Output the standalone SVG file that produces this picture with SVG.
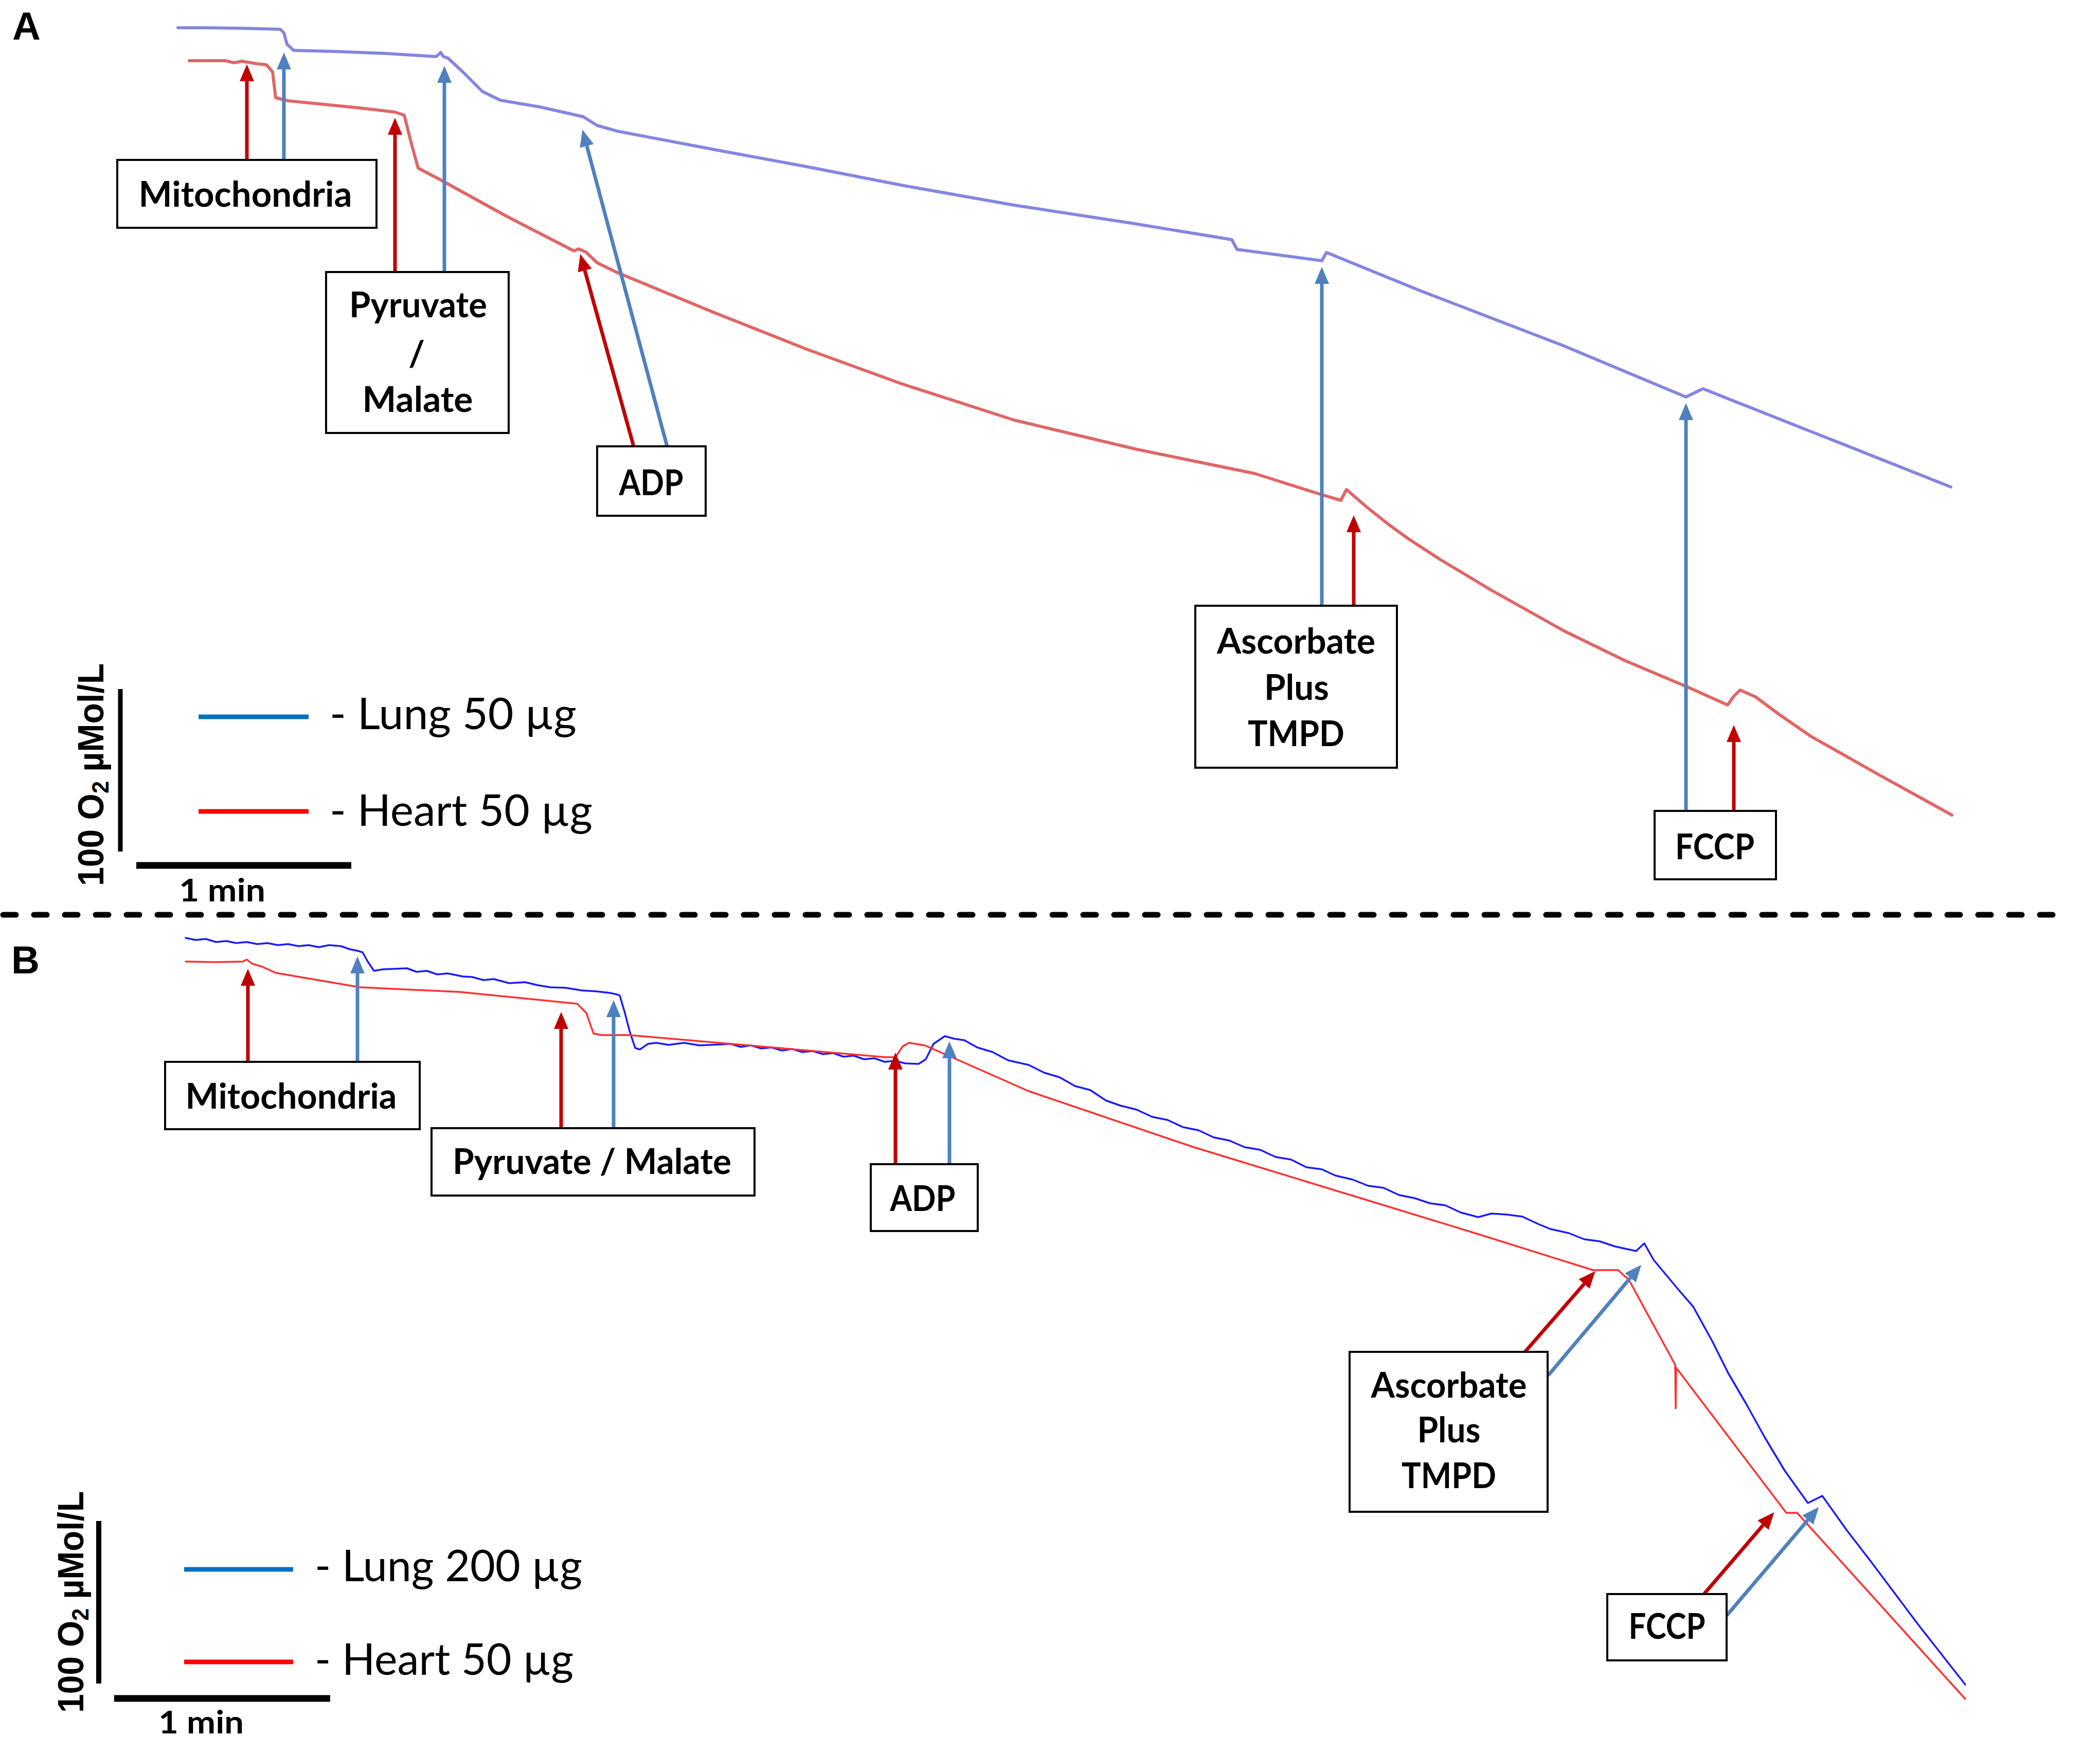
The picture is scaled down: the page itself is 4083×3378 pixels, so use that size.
<svg xmlns="http://www.w3.org/2000/svg" width="4083" height="3378" viewBox="0 0 4083 3378">
<style>
.lbl{font-family:Lato,"Liberation Sans",sans-serif;font-weight:700;font-size:68px;fill:#000;text-anchor:middle}
.leg{font-family:Lato,"Liberation Sans",sans-serif;font-weight:400;font-size:85px;fill:#000}
.min{font-family:Lato,"Liberation Sans",sans-serif;font-weight:700;font-size:61px;fill:#000}
.axis{font-family:"Liberation Sans",Arial,sans-serif;font-weight:700;font-size:70px;fill:#000}
.panel{font-family:"Liberation Sans",Arial,sans-serif;font-weight:700;font-size:76px;fill:#000}
.box{fill:#fff;stroke:#000;stroke-width:4}
.ar{stroke:#c00000;stroke-width:7;fill:none}
.ab{stroke:#4f81bd;stroke-width:7;fill:none}
.tA{fill:none;stroke-width:6;stroke-linejoin:round;stroke-linecap:round}
.tB{fill:none;stroke-width:3.5;stroke-linejoin:round;stroke-linecap:round}
</style>
<defs>
<marker id="hr" markerUnits="userSpaceOnUse" markerWidth="34" markerHeight="28" refX="0" refY="14" orient="auto"><path d="M0,0 L33,14 L0,28 z" fill="#c00000"/></marker>
<marker id="hb" markerUnits="userSpaceOnUse" markerWidth="34" markerHeight="28" refX="0" refY="14" orient="auto"><path d="M0,0 L33,14 L0,28 z" fill="#4f81bd"/></marker>
</defs>
<rect width="4083" height="3378" fill="#fff"/>

<g id="traces">
<path class="tA" stroke="#8585e0" d="M346,54 L400,54 L470,55 L545,57 L552,64 L558,86 L571,98 L650,100 L750,104 L848,110 L857,102 L862,110 L871,113 L900,140 L938,178 L973,195 L1050,208 L1134,227 L1161,244 L1200,255 L1400,293 L1568,324 L1752,360 L1972,399 L2200,434 L2395,466 L2405,485 L2570,507 L2579,491 L2763,566 L3039,672 L3278,772 L3311,756 L3793,947"/>
<path class="tA" stroke="#e06666" d="M368,118 L438,118 L455,122 L470,119 L500,124 L518,126 L530,140 L536,190 L560,196 L600,200 L700,210 L768,218 L786,224 L800,280 L813,327 L857,350 L982,419 L1116,488 L1125,484 L1139,490 L1161,511 L1200,530 L1384,606 L1568,679 L1752,746 L1972,817 L2211,874 L2440,921 L2560,959 L2607,973 L2618,952 L2656,985 L2700,1020 L2740,1049 L2800,1088 L2900,1148 L3041,1227 L3160,1285 L3281,1336 L3359,1371 L3370,1355 L3383,1342 L3413,1355 L3460,1390 L3521,1432 L3650,1505 L3795,1585"/>
<path class="tB" stroke="#1a1aff" d="M361,1824 L380,1828 L400,1826 L420,1832 L440,1830 L459,1834 L480,1832 L500,1836 L520,1834 L540,1838 L560,1836 L580,1840 L600,1838 L620,1842 L640,1838 L663,1840 L680,1846 L695,1849 L705,1852 L715,1870 L727,1888 L745,1885 L770,1884 L791,1883 L810,1890 L830,1888 L850,1895 L870,1893 L900,1899 L918,1900 L940,1906 L960,1904 L990,1912 L1020,1910 L1046,1916 L1070,1920 L1100,1921 L1130,1926 L1160,1928 L1186,1931 L1200,1934 L1205,1936 L1215,1970 L1224,2005 L1235,2038 L1244,2041 L1260,2030 L1276,2028 L1300,2032 L1330,2028 L1360,2033 L1403,2031 L1420,2030 L1440,2036 L1460,2033 L1480,2039 L1500,2037 L1520,2043 L1540,2040 L1560,2046 L1580,2044 L1600,2050 L1620,2048 L1640,2055 L1660,2053 L1680,2060 L1700,2058 L1720,2065 L1740,2063 L1760,2068 L1786,2069 L1800,2060 L1815,2030 L1837,2015 L1855,2020 L1875,2023 L1900,2037 L1930,2046 L1960,2062 L2000,2071 L2030,2086 L2060,2095 L2090,2112 L2120,2120 L2150,2140 L2178,2150 L2210,2158 L2240,2172 L2270,2178 L2300,2192 L2330,2198 L2360,2212 L2390,2218 L2420,2231 L2450,2236 L2480,2250 L2510,2255 L2540,2270 L2570,2274 L2596,2286 L2630,2294 L2660,2306 L2690,2310 L2720,2324 L2750,2330 L2780,2340 L2810,2344 L2840,2358 L2874,2367 L2900,2360 L2930,2362 L2960,2366 L2990,2380 L3014,2390 L3050,2398 L3080,2410 L3110,2414 L3140,2424 L3181,2433 L3197,2418 L3215,2450 L3240,2480 L3265,2510 L3292,2541 L3330,2610 L3360,2670 L3395,2730 L3431,2795 L3470,2860 L3515,2923 L3543,2909 L3590,2975 L3640,3040 L3730,3160 L3821,3276"/>
<path class="tB" stroke="#ff3030" d="M361,1870 L420,1871 L472,1870 L480,1866 L490,1874 L510,1880 L536,1892 L700,1920 L893,1929 L1122,1952 L1140,1970 L1154,2010 L1170,2013 L1224,2013 L1722,2056 L1741,2056 L1755,2035 L1767,2028 L1798,2033 L1862,2061 L2000,2122 L2318,2230 L2874,2400 L3097,2470 L3146,2470 L3167,2489 L3257,2654 L3258,2739 L3259,2660 L3473,2942 L3494,2942 L3821,3304"/>
</g>

<g id="connectors">
<line class="ar" x1="480" y1="311" x2="480" y2="158" marker-end="url(#hr)"/>
<line class="ab" x1="552" y1="311" x2="552" y2="135" marker-end="url(#hb)"/>
<line class="ar" x1="768" y1="529" x2="768" y2="262" marker-end="url(#hr)"/>
<line class="ab" x1="864" y1="529" x2="864" y2="161" marker-end="url(#hb)"/>
<line class="ar" x1="1232" y1="868" x2="1137" y2="526" marker-end="url(#hr)"/>
<line class="ab" x1="1297" y1="868" x2="1141" y2="284" marker-end="url(#hb)"/>
<line class="ab" x1="2570" y1="1178" x2="2570" y2="552" marker-end="url(#hb)"/>
<line class="ar" x1="2632" y1="1176" x2="2632" y2="1035" marker-end="url(#hr)"/>
<line class="ab" x1="3278" y1="1577" x2="3278" y2="817" marker-end="url(#hb)"/>
<line class="ar" x1="3371" y1="1577" x2="3371" y2="1443" marker-end="url(#hr)"/>

<line class="ar" x1="482" y1="2065" x2="482" y2="1917" marker-end="url(#hr)"/>
<line class="ab" x1="695" y1="2065" x2="695" y2="1893" marker-end="url(#hb)"/>
<line class="ar" x1="1091" y1="2194" x2="1091" y2="2001" marker-end="url(#hr)"/>
<line class="ab" x1="1193" y1="2194" x2="1193" y2="1978" marker-end="url(#hb)"/>
<line class="ar" x1="1741" y1="2264" x2="1741" y2="2080" marker-end="url(#hr)"/>
<line class="ab" x1="1846" y1="2264" x2="1846" y2="2058" marker-end="url(#hb)"/>
<line class="ar" x1="2965" y1="2629" x2="3080" y2="2497" marker-end="url(#hr)"/>
<line class="ab" x1="3010" y1="2675" x2="3170" y2="2485" marker-end="url(#hb)"/>
<line class="ar" x1="3313" y1="3100" x2="3428" y2="2966" marker-end="url(#hr)"/>
<line class="ab" x1="3357" y1="3142" x2="3515" y2="2956" marker-end="url(#hb)"/>
</g>

<g id="panelA">
<text class="panel" x="24" y="77">A</text>
<g id="A-mito"><rect class="box" x="228" y="311" width="504" height="132"/><text class="lbl" x="477" y="402" textLength="415" lengthAdjust="spacingAndGlyphs">Mitochondria</text></g>
<g id="A-pyr"><rect class="box" x="634" y="529" width="355" height="313"/>
<text class="lbl" x="813" y="617" textLength="268" lengthAdjust="spacingAndGlyphs">Pyruvate</text>
<text class="lbl" x="810" y="712">/</text>
<text class="lbl" x="812" y="801" textLength="215" lengthAdjust="spacingAndGlyphs">Malate</text></g>
<g id="A-adp"><rect class="box" x="1161" y="868" width="211" height="135"/><text class="lbl" x="1266" y="963" textLength="125" lengthAdjust="spacingAndGlyphs">ADP</text></g>
<g id="A-asc"><rect class="box" x="2324" y="1178" width="392" height="315"/>
<text class="lbl" x="2520" y="1271" textLength="308" lengthAdjust="spacingAndGlyphs">Ascorbate</text>
<text class="lbl" x="2521" y="1361" textLength="126" lengthAdjust="spacingAndGlyphs">Plus</text>
<text class="lbl" x="2520" y="1451" textLength="188" lengthAdjust="spacingAndGlyphs">TMPD</text></g>
<g id="A-fccp"><rect class="box" x="3217" y="1577" width="236" height="133"/><text class="lbl" x="3334" y="1671" textLength="154" lengthAdjust="spacingAndGlyphs">FCCP</text></g>
<g id="A-legend">
<line x1="234" y1="1340" x2="234" y2="1656" stroke="#000" stroke-width="9"/>
<line x1="265" y1="1683" x2="683" y2="1683" stroke="#000" stroke-width="13"/>
<text class="min" x="348" y="1753" textLength="168" lengthAdjust="spacingAndGlyphs">1 min</text>
<text class="axis" transform="translate(201,1723) rotate(-90)" textLength="433" lengthAdjust="spacingAndGlyphs">100 O<tspan font-size="46" dy="10">2</tspan><tspan dy="-10"> µMol/L</tspan></text>
<line x1="386" y1="1394" x2="600" y2="1394" stroke="#0070c0" stroke-width="9"/>
<line x1="386" y1="1578" x2="600" y2="1578" stroke="#ff0000" stroke-width="9"/>
<text class="leg" x="641" y="1418" textLength="480" lengthAdjust="spacingAndGlyphs">- Lung 50 µg</text>
<text class="leg" x="641" y="1606" textLength="511" lengthAdjust="spacingAndGlyphs">- Heart 50 µg</text>
</g>
</g>

<line x1="6" y1="1779" x2="4010" y2="1779" stroke="#000" stroke-width="11" stroke-dasharray="25 35" stroke-linecap="round"/>

<g id="panelB">
<text class="panel" x="22" y="1893">B</text>
<g id="B-mito"><rect class="box" x="321" y="2065" width="495" height="131"/><text class="lbl" x="566" y="2156" textLength="411" lengthAdjust="spacingAndGlyphs">Mitochondria</text></g>
<g id="B-pyr"><rect class="box" x="839" y="2194" width="628" height="131"/><text class="lbl" x="1151" y="2283" textLength="542" lengthAdjust="spacingAndGlyphs">Pyruvate / Malate</text></g>
<g id="B-adp"><rect class="box" x="1693" y="2264" width="208" height="130"/><text class="lbl" x="1794" y="2355" textLength="127" lengthAdjust="spacingAndGlyphs">ADP</text></g>
<g id="B-asc"><rect class="box" x="2624" y="2629" width="385" height="311"/>
<text class="lbl" x="2817" y="2718" textLength="303" lengthAdjust="spacingAndGlyphs">Ascorbate</text>
<text class="lbl" x="2817" y="2805" textLength="123" lengthAdjust="spacingAndGlyphs">Plus</text>
<text class="lbl" x="2817" y="2894" textLength="184" lengthAdjust="spacingAndGlyphs">TMPD</text></g>
<g id="B-fccp"><rect class="box" x="3125" y="3100" width="232" height="129"/><text class="lbl" x="3241" y="3187" textLength="149" lengthAdjust="spacingAndGlyphs">FCCP</text></g>
<g id="B-legend">
<line x1="192" y1="2958" x2="192" y2="3274" stroke="#000" stroke-width="10"/>
<line x1="222" y1="3303" x2="642" y2="3303" stroke="#000" stroke-width="13"/>
<text class="min" x="308" y="3371" textLength="166" lengthAdjust="spacingAndGlyphs">1 min</text>
<text class="axis" transform="translate(162,3331) rotate(-90)" textLength="431" lengthAdjust="spacingAndGlyphs">100 O<tspan font-size="46" dy="10">2</tspan><tspan dy="-10"> µMol/L</tspan></text>
<line x1="358" y1="3052" x2="570" y2="3052" stroke="#0070c0" stroke-width="9"/>
<line x1="358" y1="3232" x2="570" y2="3232" stroke="#ff0000" stroke-width="9"/>
<text class="leg" x="612" y="3075" textLength="520" lengthAdjust="spacingAndGlyphs">- Lung 200 µg</text>
<text class="leg" x="612" y="3257" textLength="503" lengthAdjust="spacingAndGlyphs">- Heart 50 µg</text>
</g>
</g>
</svg>
